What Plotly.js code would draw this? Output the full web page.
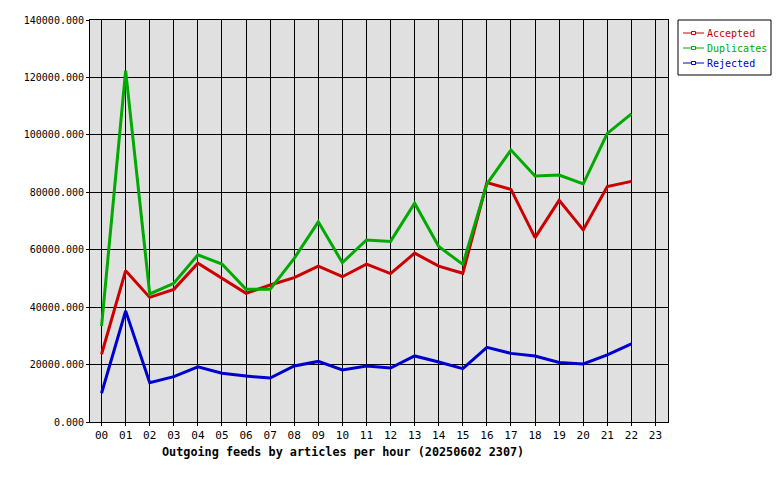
<!DOCTYPE html>
<html>
<head>
<meta charset="utf-8">
<script src="https://cdn.plot.ly/plotly-3.0.1.min.js"></script>
<style>
  body { margin: 0; background: #fff; }
  #chart { width: 780px; height: 480px; }
</style>
</head>
<body>
<div id="chart"></div>
<script>
// hours of the day, 00..23
var hours = ['00','01','02','03','04','05','06','07','08','09','10','11',
             '12','13','14','15','16','17','18','19','20','21','22','23']

// articles per hour (hour 23 has no data yet)
var accepted = [23600, 52700, 43400, 46200, 55300, 50000, 44800, 47700, 50300, 54300, 50600, 55000,
                51700, 58800, 54300, 51800, 83400, 81000, 64200, 77200, 66900, 82000, 83800]
var duplicates = [33400, 122400, 44600, 48300, 58200, 55000, 46200, 46200, 57000, 69700, 55500, 63400,
                  62900, 76200, 61100, 54900, 82900, 94700, 85700, 86000, 82900, 100500, 107300]
var rejected = [10000, 38700, 13700, 15800, 19200, 17000, 16000, 15300, 19500, 21100, 18100, 19500,
                18800, 23000, 20900, 18600, 26000, 23900, 23000, 20700, 20200, 23400, 27200]

var seriesNames = ['Accepted', 'Duplicates', 'Rejected']
var seriesColors = ['#cc0000', '#00aa00', '#0000cc']
var yTicks = [0, 20000, 40000, 60000, 80000, 100000, 120000, 140000]

var mono = 'DejaVu Sans Mono, Liberation Mono, monospace'
var allSeries = [accepted, duplicates, rejected]

// plot box in pixels (left, right, top, bottom)
var PL = 90, PR = 668, PT = 20, PB = 422
function px2x(px) { return (px - PL) / (PR - PL) }
function px2y(py) { return (PB - py) / (PB - PT) }

var data = []
allSeries.forEach(function(vals, i) {
  data.push({
    x: hours.slice(0, vals.length),
    y: vals,
    type: 'scatter',
    mode: 'lines',
    name: seriesNames[i],
    line: {color: seriesColors[i], width: 3},
    hoverinfo: 'skip'
  })
})

// hand-made legend box so it is as compact as the original one
var shapes = [{
  type: 'rect', xref: 'paper', yref: 'paper',
  x0: px2x(678), x1: px2x(771), y0: px2y(75), y1: px2y(20),
  line: {color: '#000', width: 1}, fillcolor: '#fff', layer: 'above'
}]
var annotations = [{
  text: '<b>Outgoing feeds by articles per hour (20250602 2307)</b>',
  xref: 'paper', yref: 'paper',
  x: px2x(343), y: px2y(452), xanchor: 'center', yanchor: 'middle',
  showarrow: false,
  font: {family: mono, size: 11.8, color: '#000'}
}]

seriesNames.forEach(function(name, i) {
  var ly = 33 + 15 * i
  shapes.push({
    type: 'line', xref: 'paper', yref: 'paper',
    x0: px2x(683), x1: px2x(704), y0: px2y(ly), y1: px2y(ly),
    line: {color: seriesColors[i], width: 1}, layer: 'above'
  })
  shapes.push({
    type: 'rect', xref: 'paper', yref: 'paper',
    x0: px2x(691.5), x1: px2x(695.5), y0: px2y(ly + 1.5), y1: px2y(ly - 1.5),
    line: {color: seriesColors[i], width: 1}, fillcolor: '#fff', layer: 'above'
  })
  annotations.push({
    text: name,
    xref: 'paper', yref: 'paper',
    x: px2x(705), y: px2y(ly), xanchor: 'left', yanchor: 'middle',
    showarrow: false,
    font: {family: mono, size: 10, color: seriesColors[i]}
  })
})

var layout = {
  width: 780,
  height: 480,
  margin: {l: PL, r: 780 - PR, t: PT, b: 480 - PB},
  paper_bgcolor: '#ffffff',
  plot_bgcolor: '#e0e0e0',
  font: {family: mono, size: 10, color: '#000'},
  showlegend: false,
  xaxis: {
    type: 'category',
    categoryorder: 'array',
    categoryarray: hours,
    range: [-0.48, 23.52],
    showgrid: true, gridcolor: '#000', gridwidth: 1,
    showline: true, linecolor: '#000', linewidth: 1, mirror: true,
    ticks: 'outside', ticklen: 3, tickcolor: '#000',
    tickfont: {family: mono, size: 11},
    zeroline: false, fixedrange: true, automargin: false
  },
  yaxis: {
    range: [0, 140000],
    tickvals: yTicks,
    ticktext: yTicks.map(function(v) { return v.toFixed(3) }),
    showgrid: true, gridcolor: '#000', gridwidth: 1,
    showline: true, linecolor: '#000', linewidth: 1, mirror: true,
    ticks: 'outside', ticklen: 3, tickcolor: '#000',
    tickfont: {family: mono, size: 10},
    zeroline: false, fixedrange: true, automargin: false
  },
  shapes: shapes,
  annotations: annotations
}

Plotly.newPlot('chart', data, layout, {staticPlot: true, displayModeBar: false})
</script>
</body>
</html>
